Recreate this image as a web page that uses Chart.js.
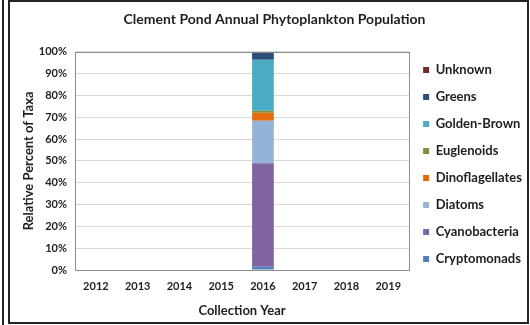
<!DOCTYPE html>
<html>
<head>
  <meta charset="UTF-8">
  <title>Clement Pond Annual Phytoplankton Population</title>
  <script src="https://cdn.jsdelivr.net/npm/chart.js"></script>
  <style>
    html, body { margin: 0; padding: 0; background: #fff; }
    #wrap { position: relative; width: 530px; height: 325px; overflow: hidden; }
    #leftLine { position: absolute; left: 2px; top: 0; width: 2px; height: 325px; background: #222; }
    #frame { position: absolute; left: 8px; top: 0; width: 517px; height: 320px; border: 2px solid #222; }
    canvas { position: absolute; left: 0; top: 0; }
  </style>
</head>
<body>
  <div id="wrap">
    <canvas id="myChart" width="530" height="325"></canvas>
    <div id="leftLine"></div>
    <div id="frame"></div>
  </div>

  <script>
    const years = ['2012', '2013', '2014', '2015', '2016', '2017', '2018', '2019'];

    // percent of taxa per year (only 2016 sampled)
    const cryptomonads    = [0, 0, 0, 0, 1.5, 0, 0, 0];
    const cyanobacteria   = [0, 0, 0, 0, 47.4, 0, 0, 0];
    const diatoms         = [0, 0, 0, 0, 19.5, 0, 0, 0];
    const dinoflagellates = [0, 0, 0, 0, 3.7, 0, 0, 0];
    const euglenoids      = [0, 0, 0, 0, 0.9, 0, 0, 0];
    const goldenBrown     = [0, 0, 0, 0, 23.4, 0, 0, 0];
    const greens          = [0, 0, 0, 0, 3.6, 0, 0, 0];
    const unknown         = [0, 0, 0, 0, 0, 0, 0, 0];

    const font = 'Lato, "Open Sans", sans-serif';
    const ink = '#1e1e1e';

    const series = [
      ['Cryptomonads', cryptomonads, '#4f81bd'],
      ['Cyanobacteria', cyanobacteria, '#8064a2'],
      ['Diatoms', diatoms, '#95b3d7'],
      ['Dinoflagellates', dinoflagellates, '#e46c0a'],
      ['Euglenoids', euglenoids, '#77933c'],
      ['Golden-Brown', goldenBrown, '#4bacc6'],
      ['Greens', greens, '#2c4d75'],
      ['Unknown', unknown, '#772c2a']
    ];

    // grey box round the plot area
    const plotBox = {
      id: 'plotBox',
      afterDraw(chart) {
        const a = chart.chartArea, c = chart.ctx;
        c.save();
        c.strokeStyle = '#8c8c8c';
        c.lineWidth = 1;
        c.strokeRect(Math.round(a.left) + 0.5, Math.round(a.top) + 0.5,
                     Math.round(a.right - a.left), Math.round(a.bottom - a.top));
        c.restore();
      }
    };

    const ctx = document.getElementById('myChart').getContext('2d');
    const chart = new Chart(ctx, {
      type: 'bar',
      data: {
        labels: years,
        datasets: series.map(s => ({
          label: s[0],
          data: s[1],
          backgroundColor: s[2],
          borderWidth: 0,
          barPercentage: 0.52,
          categoryPercentage: 1
        }))
      },
      options: {
        responsive: false,
        animation: false,
        layout: { padding: { left: 17, right: -2, top: 6, bottom: 2 } },
        plugins: {
          title: {
            display: true,
            text: 'Clement Pond Annual Phytoplankton Population',
            color: ink,
            font: { family: font, size: 14, weight: 'bold' },
            padding: { top: 5, bottom: 24 }
          },
          legend: {
            position: 'right',
            reverse: true,
            labels: {
              boxWidth: 6,
              boxHeight: 6,
              padding: 14,
              color: ink,
              font: { family: font, size: 13, weight: 'bold' }
            }
          },
          tooltip: { enabled: false }
        },
        scales: {
          x: {
            stacked: true,
            grid: { display: false, drawTicks: false },
            border: { display: false },
            ticks: { color: ink, font: { family: font, size: 11, weight: 'bold' }, padding: 10 },
            title: {
              display: true,
              text: 'Collection Year',
              color: ink,
              font: { family: font, size: 13, weight: 'bold' },
              padding: { top: 13 }
            },
            afterFit(s) { s.height = 53; }
          },
          y: {
            stacked: true,
            min: 0,
            max: 100,
            grid: { color: '#d9d9d9', drawTicks: false },
            border: { display: false },
            ticks: {
              stepSize: 10,
              color: ink,
              padding: 8,
              font: { family: font, size: 11, weight: 'bold' },
              callback: v => v + '%'
            },
            title: {
              display: true,
              text: 'Relative Percent of Taxa',
              color: ink,
              font: { family: font, size: 13, weight: 'bold' },
              padding: { bottom: 4 }
            },
            afterFit(s) { s.width = 58; }
          }
        }
      },
      plugins: [plotBox]
    });
  </script>
</body>
</html>
